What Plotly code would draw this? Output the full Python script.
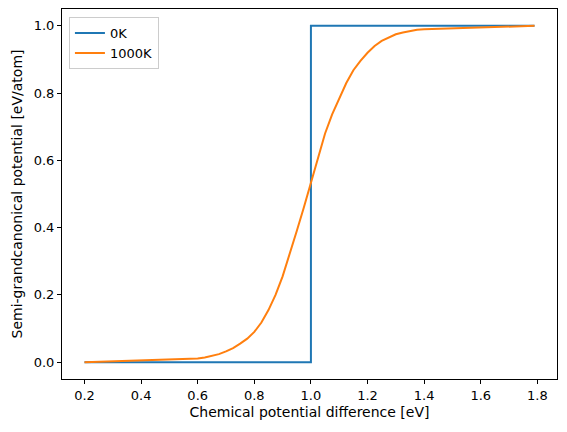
import plotly.graph_objects as go

# 0K: sharp step at 1 eV
x_0k = [0.2, 1.0, 1.0, 1.79]
y_0k = [0.0, 0.0, 1.0, 1.0]

# 1000K: smooth curve
x_1000k = [0.2, 0.6, 0.625, 0.65, 0.675, 0.7, 0.725, 0.75, 0.775, 0.8,
           0.825, 0.85, 0.875, 0.9, 0.925, 0.95, 0.975, 1.0, 1.025, 1.05,
           1.075, 1.1, 1.125, 1.15, 1.175, 1.2, 1.225, 1.25, 1.275, 1.3,
           1.325, 1.35, 1.375, 1.4, 1.79]
y_1000k = [0.0, 0.011, 0.014, 0.019, 0.024, 0.032, 0.042, 0.055, 0.07, 0.09,
           0.118, 0.155, 0.2, 0.255, 0.32, 0.39, 0.46, 0.535, 0.61, 0.68,
           0.737, 0.785, 0.83, 0.868, 0.896, 0.92, 0.94, 0.955, 0.966, 0.975,
           0.98, 0.985, 0.988, 0.99, 1.0]

x_ticks = [0.2, 0.4, 0.6, 0.8, 1.0, 1.2, 1.4, 1.6, 1.8]
y_ticks = [0.0, 0.2, 0.4, 0.6, 0.8, 1.0]

fig = go.Figure()
fig.add_trace(go.Scatter(x=x_0k, y=y_0k, mode="lines", name="0K",
                         line=dict(color="#1f77b4", width=2)))
fig.add_trace(go.Scatter(x=x_1000k, y=y_1000k, mode="lines", name="1000K",
                         line=dict(color="#ff7f0e", width=2)))

axis_style = dict(showline=True, linecolor="black", linewidth=1, mirror=True,
                  ticks="outside", ticklen=4, tickcolor="black", showgrid=False,
                  zeroline=False, tickformat=".1f", automargin=False,
                  tickfont=dict(family="DejaVu Sans", size=13, color="black"))

fig.update_layout(
    width=567, height=432,
    margin=dict(l=62, r=10, t=9, b=53),
    plot_bgcolor="white", paper_bgcolor="white",
    font=dict(family="DejaVu Sans", size=13, color="black"),
    xaxis=dict(range=[0.1205, 1.8695], tickvals=x_ticks,
               title=dict(text="Chemical potential difference [eV]", standoff=5,
                          font=dict(size=14)),
               **axis_style),
    yaxis=dict(range=[-0.05, 1.05], tickvals=y_ticks,
               title=dict(text="Semi-grandcanonical potential [eV/atom]", standoff=7,
                          font=dict(size=14)),
               **axis_style),
    legend=dict(x=0.014, y=0.978, xanchor="left", yanchor="top",
                bordercolor="#cccccc", borderwidth=1, bgcolor="white",
                font=dict(family="DejaVu Sans", size=13)),
    showlegend=True,
)

# drop the default page margin so the figure sits at the window's corner
fig.write_html("out.html", config={"displayModeBar": False},
               post_script="document.body.style.margin='0';")
